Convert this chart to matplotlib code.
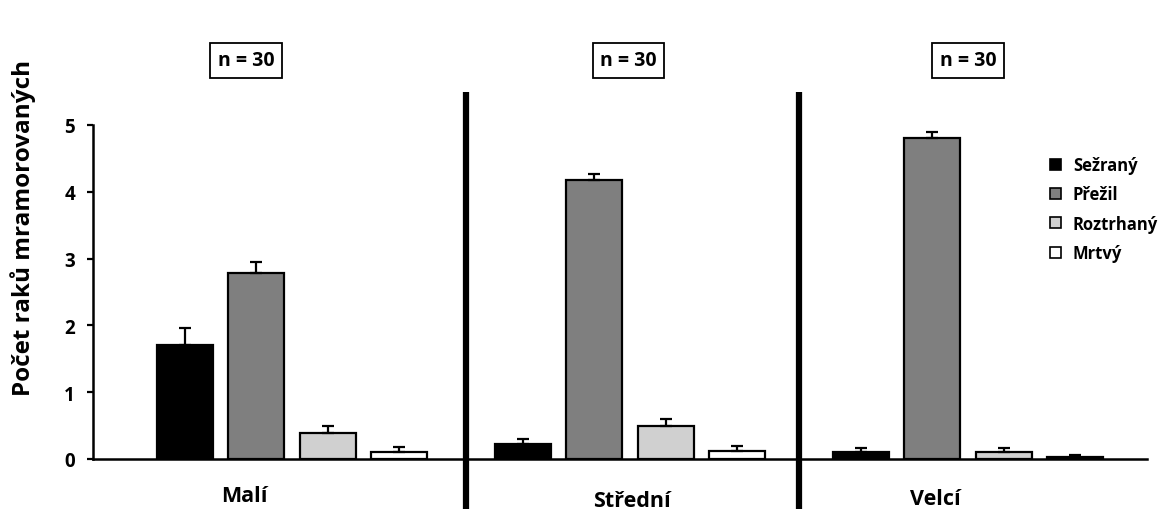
import matplotlib
matplotlib.use("Agg")
import matplotlib.pyplot as plt
from matplotlib.patches import Patch
import numpy as np

plt.rcParams['font.family'] = ['Open Sans', 'DejaVu Sans']
plt.rcParams['font.weight'] = 'bold'

groups = ["Malí", "Střední", "Velcí"]
series = ["Sežraný", "Přežil", "Roztrhaný", "Mrtvý"]
sezrany = [1.70, 0.22, 0.11]
sezrany_err = [0.26, 0.08, 0.05]
prezil = [2.79, 4.18, 4.81]
prezil_err = [0.16, 0.09, 0.08]
roztrhany = [0.39, 0.50, 0.10]
roztrhany_err = [0.10, 0.10, 0.06]
mrtvy = [0.10, 0.115, 0.03]
mrtvy_err = [0.08, 0.075, 0.035]
n_labels = ["n = 30", "n = 30", "n = 30"]
yticks = [0, 1, 2, 3, 4, 5]

values = [sezrany, prezil, roztrhany, mrtvy]
errors = [sezrany_err, prezil_err, roztrhany_err, mrtvy_err]
colors = ["#000000", "#7f7f7f", "#d0d0d0", "#ffffff"]

fig = plt.figure(figsize=(11.6, 5.1), dpi=100)
W, H = 1160, 510
ax = fig.add_axes([93 / W, 1 - 460 / H, (1147 - 93) / W, (460 - 126) / H])

x = np.arange(len(groups))
step = 0.211
width = 0.166
for j, (vals, errs, c) in enumerate(zip(values, errors, colors)):
    pos = x + (j - 1.5) * step
    ax.bar(pos, vals, width=width, color=c, edgecolor="black", linewidth=1.6,
           yerr=[np.zeros(len(errs)), errs], error_kw=dict(ecolor="black", elinewidth=1.6,
                                                              capsize=4, capthick=1.6),
           zorder=3)

ax.set_xlim(-0.589, 2.53)
ax.set_ylim(0, 5)
ax.set_yticks(yticks)
ax.set_yticklabels([str(t) for t in yticks], fontsize=13.5, fontweight='bold')
ax.set_xticks([])
ax.tick_params(axis='y', direction='out', length=4, width=1.6, pad=9)
for s in ["top", "right"]:
    ax.spines[s].set_visible(False)
ax.spines["left"].set_linewidth(1.8)
ax.spines["bottom"].set_linewidth(1.8)

# separators
for sx in [0.515, 1.5]:
    ax.plot([sx, sx], [-0.8, 5.5], color="black", lw=4.5, clip_on=False, zorder=5,
            solid_capstyle='butt')

# group labels
label_off = [-0.14, 0.006, -0.095]
label_y = [-0.63, -0.7, -0.68]
for i, g in enumerate(groups):
    ax.text(x[i] + label_off[i], label_y[i], g, ha='center', va='baseline',
            fontsize=15.5, fontweight='bold', clip_on=False)

# n boxes
n_off = [-0.136, -0.004, 0.0]
for i, t in enumerate(n_labels):
    ax.text(x[i] + n_off[i], 5.97, t, ha='center', va='center', fontsize=14,
            fontweight='bold', clip_on=False,
            bbox=dict(boxstyle='square,pad=0.38', facecolor='white', edgecolor='black',
                      linewidth=1.3))

fig.text(23 / W, 1 - 228 / H, "Počet raků mramorovaných", rotation=90,
         ha='center', va='center', fontsize=17.5, fontweight='bold')

handles = [Patch(facecolor=c, edgecolor='black', linewidth=1.2) for c in colors]
fig.legend(handles, series, loc='upper left', bbox_to_anchor=(1050 / W, 1 - 157 / H),
           frameon=False, handlelength=0.66, handleheight=0.66,
           handletextpad=0.72, labelspacing=0.68, borderpad=0, borderaxespad=0,
           prop=dict(weight='bold', size=12))

fig.savefig("out.png", dpi=100)
